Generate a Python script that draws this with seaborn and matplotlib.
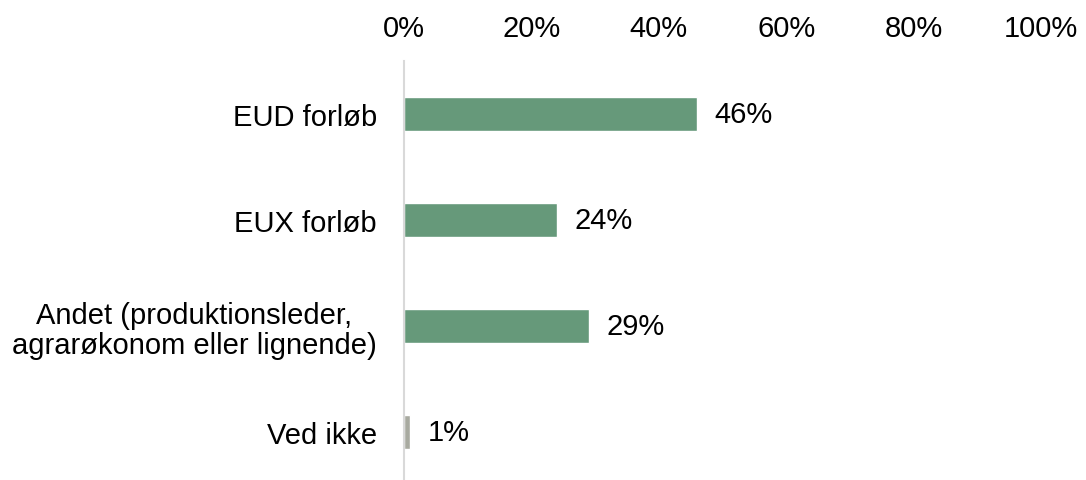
import matplotlib
matplotlib.use("Agg")
import matplotlib.pyplot as plt
import seaborn as sns
import pandas as pd

categories = ["EUD forløb", "EUX forløb", "Andet (produktionsleder,\nagrarøkonom eller lignende)", "Ved ikke"]
values = [46, 24, 29, 1]
bar_colors = ["#66997A", "#66997A", "#66997A", "#A8AAA0"]
tick_vals = [0, 20, 40, 60, 80, 100]
tick_labels = ["0%", "20%", "40%", "60%", "80%", "100%"]

sns.set_style("white")
plt.rcParams['font.family'] = ['Liberation Sans', 'DejaVu Sans']
FS = 21

df = pd.DataFrame({"cat": categories, "val": values})

fig = plt.figure(figsize=(10.86, 4.81), dpi=100)
ax = fig.add_axes([404/1086, 1-486/481, 637/1086, 424/481])
sns.barplot(data=df, y="cat", x="val", hue="cat", palette=bar_colors, legend=False,
            width=0.32, ax=ax, orient="h", saturation=1)
ax.set_xlim(0, 100)
ax.set_ylim(3.5, -0.5)
ax.set_xticks(tick_vals)
ax.set_xticklabels(tick_labels, fontsize=FS, color="black")
ax.xaxis.tick_top()
ax.tick_params(axis="x", length=0, pad=14)
ax.tick_params(axis="y", length=0, pad=19.5, labelsize=FS, labelcolor="black")
ax.set_xlabel("")
ax.set_ylabel("")
for s in ["top", "right", "bottom"]:
    ax.spines[s].set_visible(False)
ax.spines["left"].set_color("#D9D9D9")
ax.spines["left"].set_linewidth(1.5)
for i, v in enumerate(values):
    ax.text(v + 2.8, i, f"{v}%", va="center", ha="left", fontsize=FS, color="black")
for lab in ax.get_yticklabels():
    lab.set_horizontalalignment("right")
    lab.set_multialignment("center")
    lab.set_linespacing(1.1)
fig.savefig("out.png", dpi=100)
